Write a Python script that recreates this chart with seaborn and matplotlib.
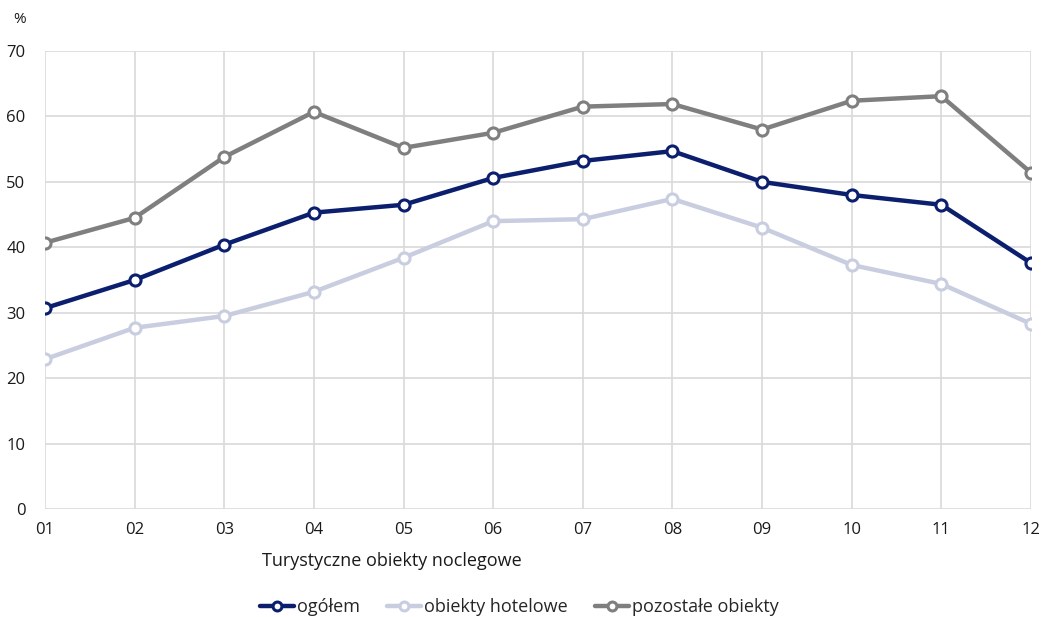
import matplotlib
matplotlib.use("Agg")
import matplotlib.pyplot as plt
import seaborn as sns
import pandas as pd

# Monthly occupancy data (%)
months = ["01", "02", "03", "04", "05", "06", "07", "08", "09", "10", "11", "12"]
ogolem = [30.7, 35.0, 40.4, 45.3, 46.5, 50.6, 53.2, 54.7, 50.0, 48.0, 46.5, 37.6]
hotelowe = [22.9, 27.7, 29.5, 33.2, 38.4, 44.0, 44.3, 47.4, 43.0, 37.3, 34.4, 28.3]
pozostale = [40.7, 44.5, 53.8, 60.7, 55.2, 57.5, 61.5, 61.9, 58.0, 62.4, 63.1, 51.4]
series_names = ["ogółem", "obiekty hotelowe", "pozostałe obiekty"]
colors = ["#0b1f6e", "#c9cde0", "#7f7f7f"]

df = pd.DataFrame({"month": months * 3,
                   "value": ogolem + hotelowe + pozostale,
                   "series": [s for s in series_names for _ in months]})
df["x"] = df["month"].map({m: i for i, m in enumerate(months)})

sns.set_style("white")
plt.rcParams['font.family'] = ['Open Sans', 'DejaVu Sans']

fig = plt.figure(figsize=(10.43, 6.17), dpi=100)
ax = fig.add_axes([0.0431, 0.175, 0.9454, 0.7423])

# draw lines with hollow markers
for name, col in zip(series_names, colors):
    sub = df[df["series"] == name]
    sns.lineplot(data=sub, x="x", y="value", ax=ax, color=col, linewidth=3.2,
                 marker="o", markersize=8, markerfacecolor="white",
                 markeredgecolor=col, markeredgewidth=2.2, label=name, zorder=3)

ax.set_xlim(0, len(months) - 1)
ax.set_ylim(0, 70)
ax.set_xticks(range(len(months)))
ax.set_xticklabels(months)
ax.set_yticks(range(0, 71, 10))
ax.grid(True, color="#d9d9d9", linewidth=1.2, zorder=0)
for sp in ax.spines.values():
    sp.set_visible(False)
ax.tick_params(axis="both", length=0, labelsize=12, colors="#1a1a1a")
ax.tick_params(axis="x", pad=9)
ax.tick_params(axis="y", pad=14)
ax.set_xlabel("")
ax.set_ylabel("")

fig.text(0.013, 0.963, "%", fontsize=11, color="#1a1a1a")
fig.text(0.251, 0.082, "Turystyczne obiekty noclegowe", fontsize=13, color="#1a1a1a")

leg = ax.legend(loc="center left", bbox_to_anchor=(0.249, 0.016),
                bbox_transform=fig.transFigure, ncol=3, frameon=False,
                fontsize=13, handlelength=1.9, handletextpad=0.15, columnspacing=1.5,
                borderaxespad=0, borderpad=0, markerscale=0.8)

fig.savefig("out.png", dpi=100)
